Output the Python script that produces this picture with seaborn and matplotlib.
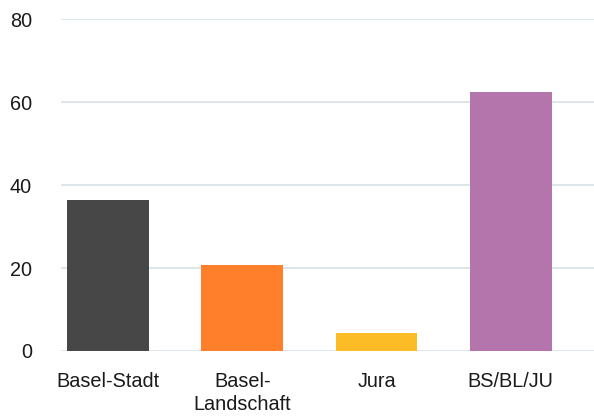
import matplotlib.pyplot as plt
import seaborn as sns
import pandas as pd

regions = ["Basel-Stadt", "Basel-\nLandschaft", "Jura", "BS/BL/JU"]
values = [36.3, 20.8, 4.3, 62.4]
colors = ["#474747", "#FF7F2A", "#FBBC25", "#B375AB"]
yticks = [0, 20, 40, 60, 80]

df = pd.DataFrame({"region": regions, "value": values})

sns.set_style("white")
plt.rcParams["font.family"] = ["Liberation Sans", "DejaVu Sans"]

fig = plt.figure(figsize=(5.94, 4.16), dpi=100)
ax = fig.add_axes([61 / 594, 1 - 351 / 416, 1 - 61 / 594, (351 - 19.3) / 416])

sns.barplot(data=df, x="region", y="value", hue="region", palette=colors,
            legend=False, width=0.61, linewidth=0, saturation=1, ax=ax, zorder=3)

ax.set_ylim(0, 80)
ax.set_xlim(-0.35, 3.62)
ax.set_yticks(yticks)
ax.set_xticks(range(len(regions)))
ax.set_xticklabels(regions, linespacing=1.25, va="top")
ax.yaxis.grid(True, color="#D3E0E6", linewidth=1.1, zorder=0)
ax.set_axisbelow(True)
for s in ax.spines.values():
    s.set_visible(False)
ax.set_xlabel("")
ax.set_ylabel("")
ax.tick_params(axis="y", length=0, pad=21, labelsize=14.3, labelcolor="#1a1a1a")
ax.tick_params(axis="x", length=0, pad=15, labelsize=14.3, labelcolor="#1a1a1a")

fig.savefig("out.png", dpi=100)
